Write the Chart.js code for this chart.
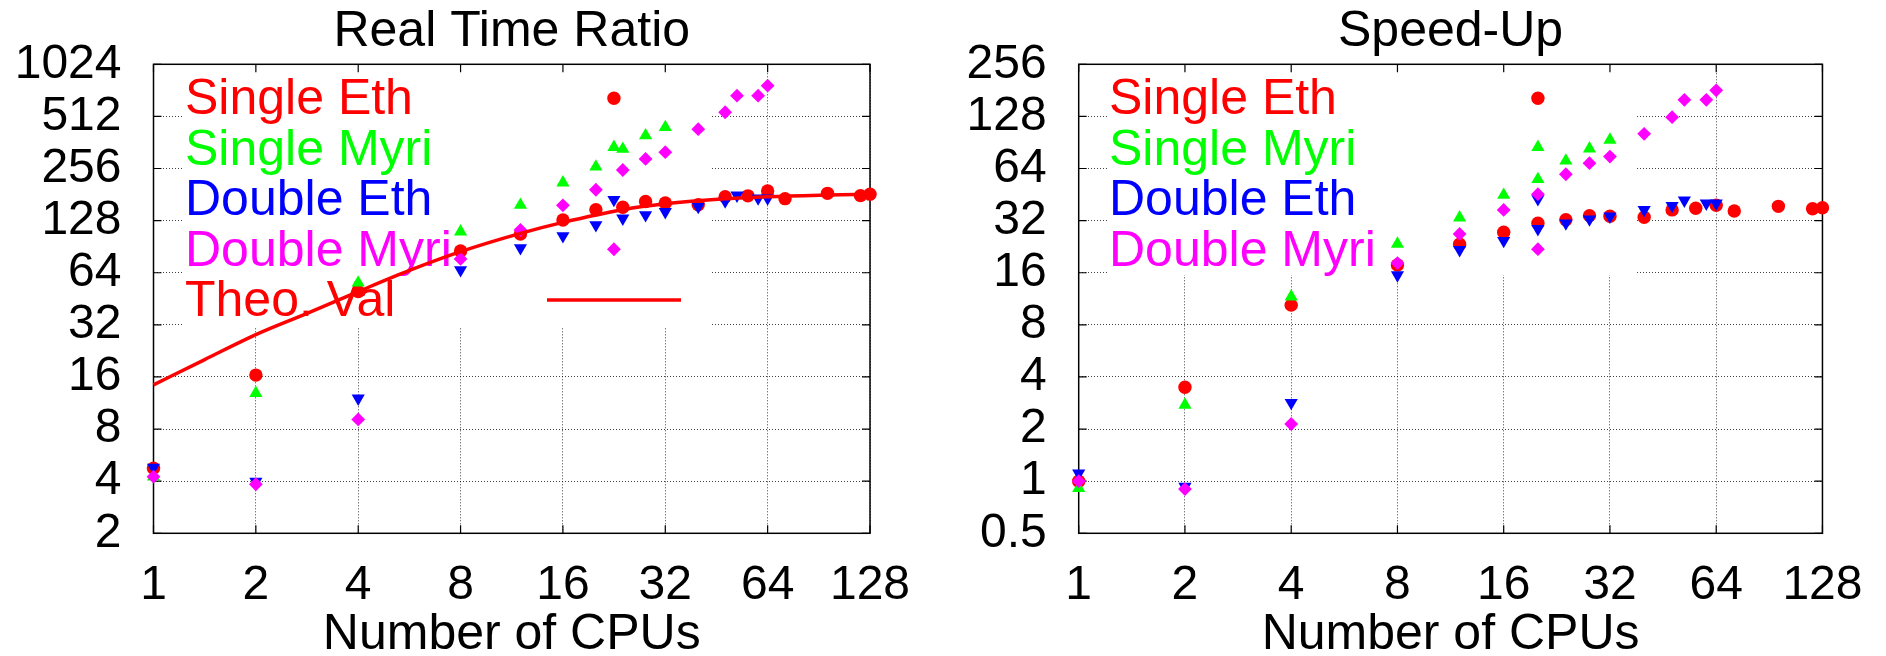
<!DOCTYPE html>
<html>
<head>
<meta charset="utf-8">
<title>Real Time Ratio / Speed-Up</title>
<script src="https://cdn.jsdelivr.net/npm/chart.js@4"></script>
<style>
    html, body { margin: 0; padding: 0; background: #fff; }
    #wrap { position: relative; width: 1886px; height: 656px; overflow: hidden; }
    #wrap canvas { position: absolute; top: 0; }
</style>
</head>
<body>
<div id="wrap">
    <canvas id="ratioChart" width="943" height="656" style="left:0"></canvas>
    <canvas id="speedChart" width="943" height="656" style="left:943px"></canvas>
</div>
<script>
// ---- data ----
const cpuTicks = [1, 2, 4, 8, 16, 32, 64, 128];
const ratioTicks = [2, 4, 8, 16, 32, 64, 128, 256, 512, 1024];
const speedTicks = [0.5, 1, 2, 4, 8, 16, 32, 64, 128, 256];
const seriesNames = ['Single Eth', 'Single Myri', 'Double Eth', 'Double Myri'];
const theoName = 'Theo. Val';

// Real Time Ratio
const ratioSingleEthX = [1, 2, 4, 8, 12, 16, 20, 22.6, 24, 28, 32, 40, 48, 56, 64, 72, 96, 120, 128];
const ratioSingleEthY = [4.75, 16.4, 49.8, 85.5, 107, 129, 148, 652, 153, 165, 162, 158, 176, 178, 190, 171.5, 184, 178.5, 182];
const ratioSingleMyriX = [1, 2, 4, 8, 12, 16, 20, 22.6, 24, 28, 32];
const ratioSingleMyriY = [4.25, 12.9, 56, 110.6, 157.6, 212, 262, 340, 332, 397, 443];
const ratioDoubleEthX = [1, 2, 4, 8, 12, 16, 20, 22.6, 24, 28, 32, 40, 48, 52, 60, 64];
const ratioDoubleEthY = [4.8, 3.98, 12.05, 66.4, 89, 104.4, 120.8, 169, 132, 138, 144, 154, 166, 179, 172.4, 172.4];
const ratioDoubleMyriX = [1, 2, 4, 8, 12, 16, 20, 22.6, 24, 28, 32, 40, 48, 52, 60, 64];
const ratioDoubleMyriY = [4.25, 3.84, 9.1, 76.9, 113, 157, 193, 87.5, 251, 291, 318, 432, 541, 675, 675, 771];
const theoX = [1, 1.41, 2, 2.83, 4, 5.66, 8, 12, 16, 24, 32, 48, 64, 96, 128];
const theoY = [14.4, 20.1, 28.1, 37.3, 49.8, 66, 84.7, 108, 125, 148, 160, 171, 176, 180, 182];

// Speed-Up
const speedSingleEthX = [1, 2, 4, 8, 12, 16, 20, 20, 24, 28, 32, 40, 48, 56, 64, 72, 96, 120, 128];
const speedSingleEthY = [1.0, 3.49, 10.4, 17.75, 23.4, 27.4, 163, 30.9, 32.4, 34.2, 33.9, 33.5, 36.9, 37.7, 39.3, 36.4, 38.7, 37.5, 38];
const speedSingleMyriX = [1, 2, 4, 8, 12, 16, 20, 20, 24, 28, 32];
const speedSingleMyriY = [0.91, 2.76, 11.65, 23.5, 33.3, 45, 85, 55.5, 70.9, 83.4, 93.6];
const speedDoubleEthX = [1, 2, 4, 8, 12, 16, 20, 20, 24, 28, 32, 40, 48, 52, 60, 64];
const speedDoubleEthY = [1.11, 0.93, 2.84, 15.5, 21.7, 24.5, 42.7, 28.7, 30.9, 32.6, 33.9, 36.9, 39, 41.9, 40.3, 40.3];
const speedDoubleMyriX = [1, 2, 4, 8, 12, 16, 20, 20, 24, 28, 32, 40, 48, 52, 60, 64];
const speedDoubleMyriY = [1.0, 0.90, 2.14, 18.2, 26.8, 36.9, 45.5, 21.9, 59.3, 68.7, 75, 101.5, 126.7, 159.5, 159.5, 181];

const seriesColors = ['#ff0000', '#00ff00', '#0000ff', '#ff00ff'];
const FONT = "'Liberation Sans', Arial, Helvetica, sans-serif";
const TICK_SIZE = 48;
const TEXT_SIZE = 50;

function pairs(xs, ys) {
    return xs.map((x, i) => ({ x: x, y: ys[i] }));
}

function markerSets(data) {
    const styles = [
        { pointStyle: 'circle', pointRadius: 6.7, rotation: 0 },
        { pointStyle: 'triangle', pointRadius: 7.6, rotation: 0 },
        { pointStyle: 'triangle', pointRadius: 7.6, rotation: 180 },
        { pointStyle: 'rectRot', pointRadius: 6.9, rotation: 0 },
    ];
    return data.map((d, i) => ({
        label: seriesNames[i],
        data: d,
        showLine: false,
        pointStyle: styles[i].pointStyle,
        pointRadius: styles[i].pointRadius,
        pointRotation: styles[i].rotation,
        pointBackgroundColor: seriesColors[i],
        pointBorderColor: seriesColors[i],
        pointBorderWidth: 0,
        clip: false,
        order: 5 - i,
    }));
}

// title, white key box, key texts, frame and inward ticks (drawn under the marks)
const framePlugin = {
    id: 'plotFrame',
    beforeDatasetsDraw(chart, args, opts) {
        const ctx = chart.ctx;
        const area = chart.chartArea;
        const box = opts.box;
        ctx.save();

        ctx.font = TEXT_SIZE + 'px ' + FONT;
        ctx.fillStyle = '#000';
        ctx.textAlign = 'center';
        ctx.textBaseline = 'alphabetic';
        ctx.fillText(opts.title, (area.left + area.right) / 2, 45.5);

        ctx.fillStyle = '#fff';
        ctx.fillRect(box.left, area.top, box.right - box.left, box.bottom - area.top);

        ctx.textAlign = 'left';
        opts.items.forEach((item) => {
            ctx.fillStyle = item.color;
            ctx.fillText(item.text, opts.textX, item.baseline);
        });
        if (opts.sample) {
            ctx.strokeStyle = '#ff0000';
            ctx.lineWidth = 3.5;
            ctx.beginPath();
            ctx.moveTo(opts.sample.x1, opts.sample.y);
            ctx.lineTo(opts.sample.x2, opts.sample.y);
            ctx.stroke();
        }

        ctx.strokeStyle = '#000';
        ctx.lineWidth = 1.5;
        ctx.strokeRect(area.left, area.top, area.right - area.left, area.bottom - area.top);

        const tick = 8;
        ctx.lineWidth = 1.2;
        ctx.beginPath();
        chart.scales.x.ticks.forEach((t) => {
            const px = chart.scales.x.getPixelForValue(t.value);
            ctx.moveTo(px, area.bottom); ctx.lineTo(px, area.bottom - tick);
            ctx.moveTo(px, area.top); ctx.lineTo(px, area.top + tick);
        });
        chart.scales.y.ticks.forEach((t) => {
            const py = chart.scales.y.getPixelForValue(t.value);
            ctx.moveTo(area.left, py); ctx.lineTo(area.left + tick, py);
            ctx.moveTo(area.right, py); ctx.lineTo(area.right - tick, py);
        });
        ctx.stroke();
        ctx.restore();
    },
};

function buildChart(canvasId, cfg) {
    const tickFont = { family: FONT, size: TICK_SIZE };
    const gridStyle = { color: 'rgba(0,0,0,0.75)', lineWidth: 1, drawTicks: false };
    return new Chart(document.getElementById(canvasId), {
        type: 'scatter',
        data: { datasets: cfg.datasets },
        options: {
            responsive: false,
            animation: false,
            events: [],
            layout: { padding: { left: 0, right: cfg.padRight, top: cfg.top, bottom: 0 } },
            plugins: {
                legend: { display: false },
                tooltip: { enabled: false },
                title: { display: false },
                plotFrame: cfg.key,
            },
            scales: {
                x: {
                    type: 'logarithmic',
                    min: 1,
                    max: 128,
                    afterBuildTicks: (scale) => { scale.ticks = cpuTicks.map((v) => ({ value: v })); },
                    afterFit: (scale) => { scale.height = 656 - cfg.bottom; },
                    ticks: {
                        callback: (v) => String(v),
                        autoSkip: false,
                        maxRotation: 0,
                        padding: 23.5,
                        color: '#000',
                        font: tickFont,
                    },
                    grid: gridStyle,
                    border: { display: false, dash: [1, 2] },
                    title: {
                        display: true,
                        text: 'Number of CPUs',
                        color: '#000',
                        font: { family: FONT, size: TEXT_SIZE, lineHeight: 0.8 },
                        padding: { top: 0, bottom: 1 },
                    },
                },
                y: {
                    type: 'logarithmic',
                    min: cfg.yTicks[0],
                    max: cfg.yTicks[cfg.yTicks.length - 1],
                    afterBuildTicks: (scale) => { scale.ticks = cfg.yTicks.map((v) => ({ value: v })); },
                    afterFit: (scale) => { scale.width = cfg.left; },
                    ticks: {
                        callback: (v) => String(v),
                        autoSkip: false,
                        padding: 32,
                        color: '#000',
                        font: tickFont,
                    },
                    grid: gridStyle,
                    border: { display: false, dash: [1, 2] },
                },
            },
        },
        plugins: [framePlugin],
    });
}

Chart.defaults.font.family = FONT;

const legendRows = [114, 164.5, 215, 265.5, 316];

const ratioSets = markerSets([
    pairs(ratioSingleEthX, ratioSingleEthY),
    pairs(ratioSingleMyriX, ratioSingleMyriY),
    pairs(ratioDoubleEthX, ratioDoubleEthY),
    pairs(ratioDoubleMyriX, ratioDoubleMyriY),
]);
ratioSets.push({
    label: theoName,
    data: pairs(theoX, theoY),
    showLine: true,
    borderColor: '#ff0000',
    borderWidth: 3.5,
    pointRadius: 0,
    cubicInterpolationMode: 'monotone',
    clip: false,
    order: 0,
});

buildChart('ratioChart', {
    yTicks: ratioTicks,
    left: 153.5,
    top: 64.3,
    padRight: 943 - 870,
    bottom: 533.3,
    datasets: ratioSets,
    key: {
        title: 'Real Time Ratio',
        box: { left: 183, right: 711.5, bottom: 327 },
        textX: 185,
        items: seriesNames.concat([theoName]).map((text, i) => ({
            text: text,
            color: i < 4 ? seriesColors[i] : '#ff0000',
            baseline: legendRows[i],
        })),
        sample: { x1: 547, x2: 681, y: 300 },
    },
});

buildChart('speedChart', {
    yTicks: speedTicks,
    left: 135.7,
    top: 64.3,
    padRight: 943 - 882.3,
    bottom: 533.3,
    datasets: markerSets([
        pairs(speedSingleEthX, speedSingleEthY),
        pairs(speedSingleMyriX, speedSingleMyriY),
        pairs(speedDoubleEthX, speedDoubleEthY),
        pairs(speedDoubleMyriX, speedDoubleMyriY),
    ]),
    key: {
        title: 'Speed-Up',
        box: { left: 165, right: 694, bottom: 275 },
        textX: 166,
        items: seriesNames.map((text, i) => ({
            text: text,
            color: seriesColors[i],
            baseline: legendRows[i],
        })),
        sample: null,
    },
});
</script>
</body>
</html>
